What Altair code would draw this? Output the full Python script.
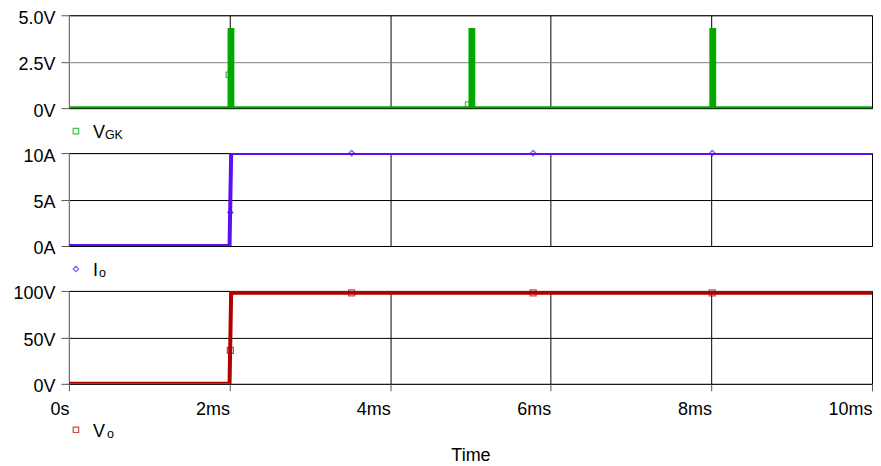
import altair as alt
import pandas as pd

# ---------------- data ----------------
# V_GK (gate pulses), time in ms
vgk_t = [0, 2.00, 2.00, 2.035, 2.035, 5.00, 5.00, 5.035, 5.035, 8.00, 8.00, 8.035, 8.035, 10]
vgk_v = [0, 0, 4.2, 4.2, 0, 0, 4.2, 4.2, 0, 0, 4.2, 4.2, 0, 0]
vgk_mk_t = [1.99, 4.97]
vgk_mk_v = [1.8, 0.2]

# Io (load current)
io_t = [0, 2.00, 2.02, 10]
io_v = [0, 0, 10, 10]
io_mk_t = [2.01, 3.52, 5.78, 8.01]
io_mk_v = [3.6, 10, 10, 10]

# Vo (load voltage)
vo_t = [0, 2.00, 2.02, 10]
vo_v = [0, 0, 98, 98]
vo_mk_t = [2.01, 3.52, 5.78, 8.01]
vo_mk_v = [36, 98, 98, 98]

x_ticks = [0, 2, 4, 6, 8, 10]
vgk_ticks = [0, 2.5, 5.0]
io_ticks = [0, 5, 10]
vo_ticks = [0, 50, 100]

legend_main = ["V", "I", "V"]
legend_sub = ["GK", "o", "o"]

FONT = "Liberation Sans"
W = 804
H = 93


def panel(t, v, mt, mv, color, shape, msize, ydom, yticks, ylabel_expr, gridcolor,
          bottom, lmain, lsub, sub_dx, leg_y, leg_shape, leg_size):
    line_df = pd.DataFrame({"t": t, "v": v, "i": list(range(len(t)))})
    mk_df = pd.DataFrame({"t": mt, "v": mv})

    if bottom:
        xaxis = alt.Axis(values=x_ticks, grid=True, gridColor="black", gridWidth=1,
                         labelExpr="datum.value == 0 ? '0s' : datum.value + 'ms'",
                         labelAlign="right", labelOffset=0, labelPadding=10,
                         labelFontSize=18, labelColor="black", labelFont=FONT,
                         ticks=True, tickSize=7, tickColor="#555555", domain=False,
                         title="Time", titleFontSize=18, titleFont=FONT,
                         titleFontWeight="normal", titlePadding=28, titleColor="black")
    else:
        xaxis = alt.Axis(values=x_ticks, grid=True, gridColor="black", gridWidth=1,
                         labels=False, ticks=False, domain=False, title=None)

    x = alt.X("t:Q", scale=alt.Scale(domain=[0, 10], nice=False), axis=xaxis)
    yaxis = alt.Axis(values=yticks, grid=True, gridColor=gridcolor, gridWidth=1,
                     labelExpr=ylabel_expr, labelFontSize=18, labelFont=FONT,
                     labelColor="black", labelPadding=6, labelOffset=3, tickSize=8,
                     tickColor="#555555", domain=True, domainColor="#808080",
                     title=None, minExtent=60, maxExtent=60)
    y = alt.Y("v:Q", scale=alt.Scale(domain=ydom, nice=False), axis=yaxis)

    line = alt.Chart(line_df).mark_line(color=color, strokeWidth=4, clip=True).encode(
        x=x, y=y, order="i:Q")
    marks = alt.Chart(mk_df).mark_point(shape=shape, size=msize, filled=False,
                                        color=color, strokeWidth=1.3).encode(
        x="t:Q", y="v:Q")

    leg_df = pd.DataFrame({"main": [lmain], "sub": [lsub]})
    leg_mark = alt.Chart(leg_df).mark_point(shape=leg_shape, size=leg_size, filled=False,
                                            color=color, strokeWidth=1.2).encode(
        x=alt.value(7), y=alt.value(H + leg_y - 7))
    leg_main = alt.Chart(leg_df).mark_text(align="left", baseline="alphabetic",
                                           fontSize=18, font=FONT, color="black").encode(
        x=alt.value(24), y=alt.value(H + leg_y), text="main:N")
    leg_sub = alt.Chart(leg_df).mark_text(align="left", baseline="alphabetic",
                                          fontSize=12.5, font=FONT, color="black").encode(
        x=alt.value(24 + sub_dx), y=alt.value(H + leg_y + 1), text="sub:N")

    return alt.layer(line, marks, leg_mark, leg_main, leg_sub).properties(width=W, height=H)


p1 = panel(vgk_t, vgk_v, vgk_mk_t, vgk_mk_v, "#00A800", "square", 28, [0, 5],
           vgk_ticks,
           "datum.value == 0 ? '0V' : format(datum.value, '.1f') + 'V'",
           {"condition": {"test": "datum.value == 2.5", "value": "#808080"}, "value": "black"},
           False, legend_main[0], legend_sub[0], 12, 30, "square", 30)
p2 = panel(io_t, io_v, io_mk_t, io_mk_v, "#5A0FF5", "diamond", 28, [0, 10],
           io_ticks, "datum.value + 'A'", "black",
           False, legend_main[1], legend_sub[1], 6, 30, "diamond", 30)
p3 = panel(vo_t, vo_v, vo_mk_t, vo_mk_v, "#B00000", "square", 36, [0, 100],
           vo_ticks, "datum.value + 'V'", "black",
           True, legend_main[2], legend_sub[2], 14, 53, "square", 30)

chart = alt.vconcat(p1, p2, p3, spacing=45, bounds="flush").properties(
    padding={"left": 0, "top": 0, "right": 0, "bottom": 0}
).configure_view(stroke="#808080", strokeWidth=1)

chart.save("out.html", embed_options={"renderer": "svg", "actions": False})
